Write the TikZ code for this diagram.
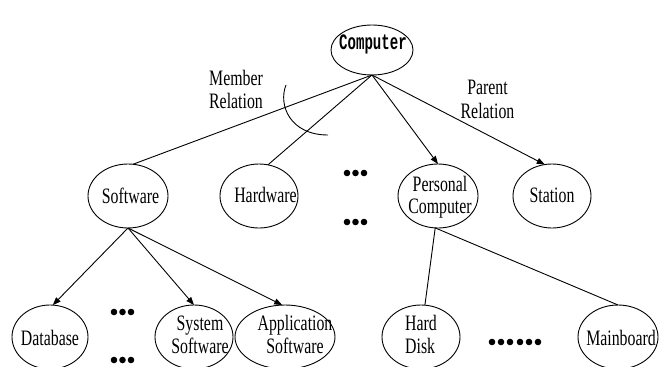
\documentclass[tikz,border=0pt]{standalone}
\usepackage{fontspec}
\setmainfont{Liberation Serif}[FakeStretch=0.72]
\newfontfamily\compfont{Liberation Mono}[FakeStretch=0.64]
\usetikzlibrary{arrows.meta,shapes.geometric}
\begin{document}
\begin{tikzpicture}[x=1pt,y=-1pt,
  ell/.style={draw, ellipse, inner sep=0pt, outer sep=0pt, line width=0.9pt, minimum height=64pt},
  txt/.style={font=\fontsize{22}{23}\selectfont, inner sep=0pt, anchor=base, align=center},
  link/.style={line width=0.9pt},
  arr/.style={link, -{Triangle[length=8pt,width=6pt]}}]
\useasboundingbox (0,0) rectangle (662,367);
% ellipses
\node[ell, minimum width=82pt, minimum height=50pt] (comp) at (372,50) {};
\node[ell, minimum width=80pt] (soft) at (128,196) {};
\node[ell, minimum width=78pt] (hard) at (259,196) {};
\node[ell, minimum width=80pt] (pc) at (438,196) {};
\node[ell, minimum width=78pt] (stat) at (552,196) {};
\node[ell, minimum width=76pt] (db) at (50,337) {};
\node[ell, minimum width=78pt] (sys) at (194,337) {};
\node[ell, minimum width=100pt] (app) at (285,337) {};
\node[ell, minimum width=78pt] (hd) at (421,337) {};
\node[ell, minimum width=80pt] (mb) at (618,337) {};
% texts (multi-line nodes: base = last baseline)
\node[txt, font=\compfont\bfseries\fontsize{22}{22}\selectfont] (compt) at (373,49) {Computer};
\node[txt] (softt) at (130.5,203) {Software};
\node[txt] (hardt) at (265.5,202) {Hardware};
\node[txt, font=\fontsize{22}{22}\selectfont] (pct) at (440,213) {Personal\\Computer};
\node[txt] (statt) at (552,202) {Station};
\node[txt] (dbt) at (50,345) {Database};
\node[txt] (syst) at (200,353) {System\\Software};
\node[txt] (appt) at (295,353) {Application\\Software};
\node[txt, anchor=base west, align=left] (hdt) at (405,353) {Hard\\Disk};
\node[txt] (mbt) at (621,345) {Mainboard};
\node[txt] (memt) at (236,108) {Member\\Relation};
\node[txt, font=\fontsize{22}{24}\selectfont] (part) at (487.5,118) {Parent\\Relation};
% connectors
\draw[link] (comp.south) -- (soft.81);
\draw[link] (comp.south) -- (hard.74);
\draw[arr] (comp.south) -- (pc.north);
\draw[arr] (comp.south) -- (stat.103);
\draw[arr] (soft.south) -- (db.85);
\draw[arr] (soft.south) -- (sys.north);
\draw[arr] (soft.south) -- (app.95);
\draw[link] (pc.265) -- (hd.83);
\draw[link] (pc.265) -- (mb.north);
% member relation arc
\draw[link] (286,85) .. controls (278,105) and (290,135) .. (328,135);
% dots
\foreach \x in {347,355.5,364} {
  \fill (\x,173) circle (3.3pt);
  \fill (\x,222) circle (3.3pt);
}
\foreach \x in {114,122.5,131} {
  \fill (\x,312) circle (3.3pt);
  \fill (\x,360) circle (3.3pt);
}
\foreach \x in {492,501,510,520,529,538} {
  \fill (\x,342) circle (3.3pt);
}
\end{tikzpicture}
\end{document}
